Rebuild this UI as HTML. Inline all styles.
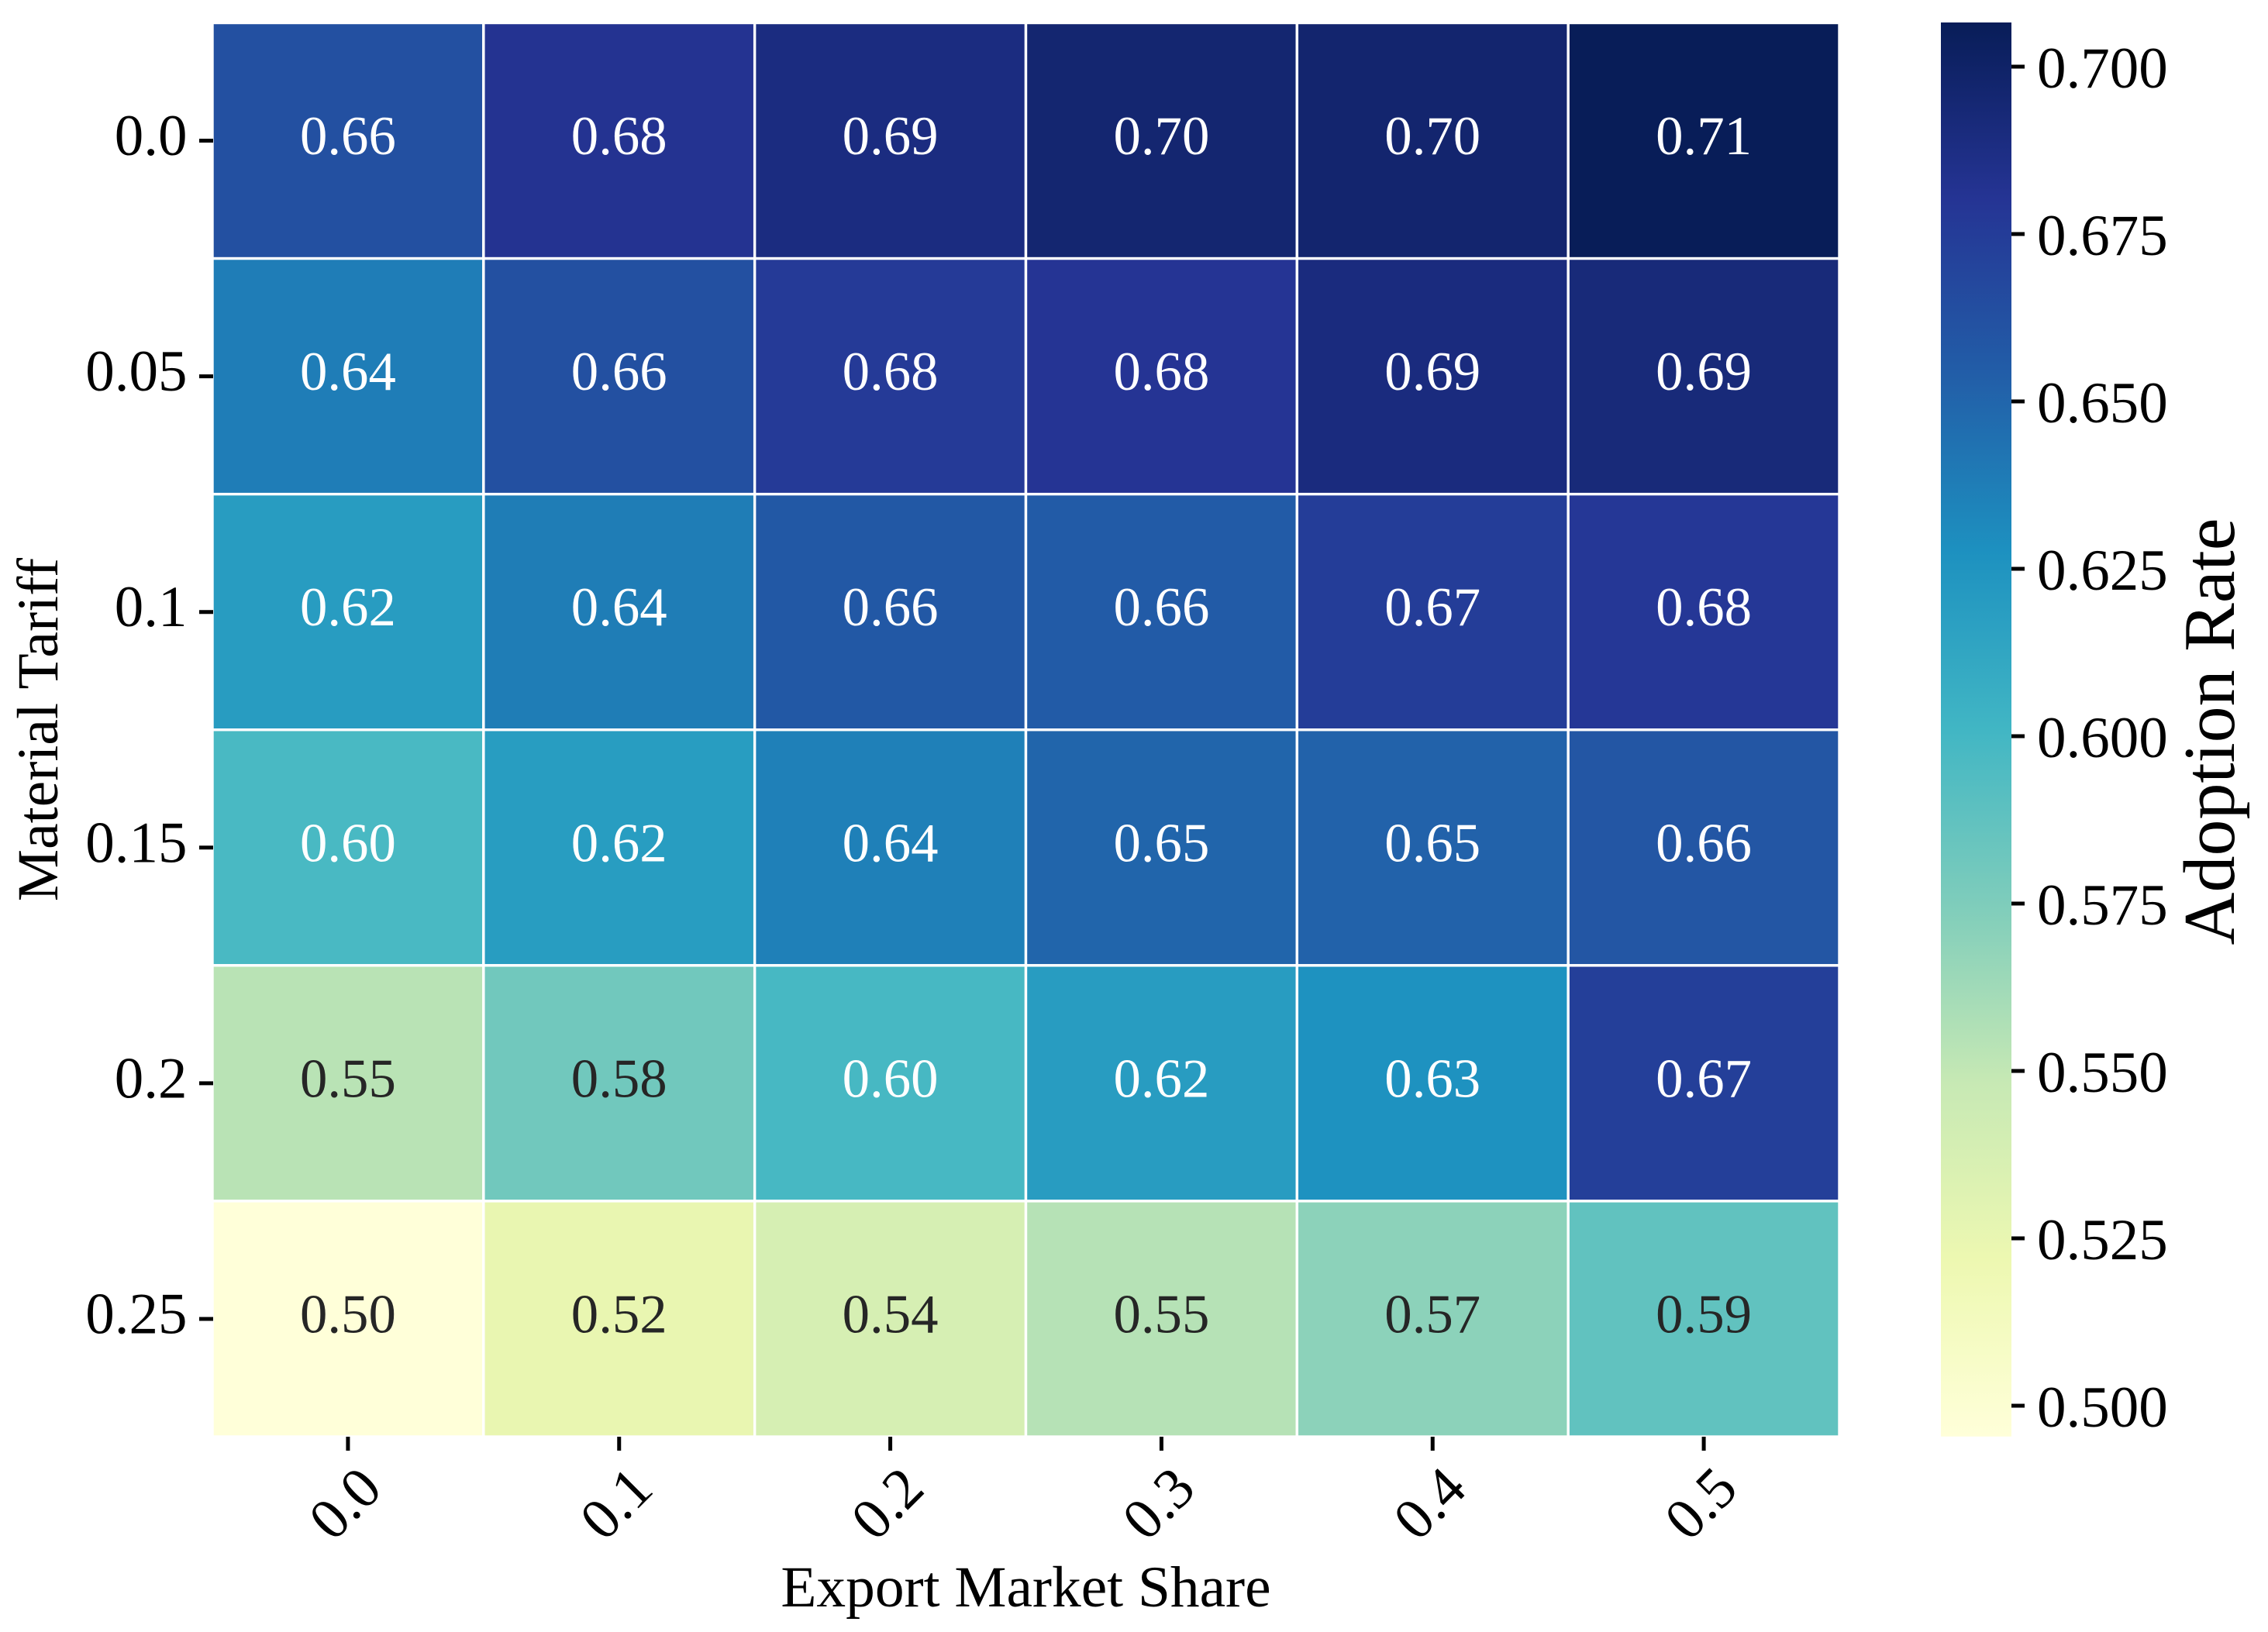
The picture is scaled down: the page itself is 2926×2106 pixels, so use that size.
<!DOCTYPE html>
<html lang="en">
<head>
<meta charset="utf-8">
<title>Adoption Rate Heatmap</title>
<style>
html,body{margin:0;padding:0;background:#fff;}
body{width:2926px;height:2106px;overflow:hidden;}
svg{display:block;font-family:"Liberation Serif","Times New Roman",serif;}
</style>
</head>
<body>
<svg id="chart" xmlns="http://www.w3.org/2000/svg" width="2926" height="2106" viewBox="0 0 2926 2106">
  <rect x="0" y="0" width="2926" height="2106" fill="#ffffff"/>
  <defs>
    <linearGradient id="cbar-gradient" x1="0" y1="1" x2="0" y2="0"></linearGradient>
  </defs>
  <g id="cells"></g>
  <g id="annotations"></g>
  <g id="x-axis"></g>
  <g id="y-axis"></g>
  <g id="colorbar"></g>
  <text x="1323.5" y="2073" font-size="75.4" text-anchor="middle" fill="#000">Export Market Share</text>
  <text transform="translate(74,941.5) rotate(-90)" font-size="75.6" text-anchor="middle" fill="#000">Material Tariff</text>
  <text transform="translate(2882,944) rotate(-90)" font-size="94" text-anchor="middle" fill="#000">Adoption Rate</text>
</svg>
<script>
const xCategories = ["0.0", "0.1", "0.2", "0.3", "0.4", "0.5"];
const yCategories = ["0.0", "0.05", "0.1", "0.15", "0.2", "0.25"];
const row0 = [0.6626, 0.6815, 0.6890, 0.6960, 0.6970, 0.7066];
const row1 = [0.6377, 0.6626, 0.6765, 0.6800, 0.6900, 0.6920];
const row2 = [0.6195, 0.6380, 0.6575, 0.6555, 0.6745, 0.6780];
const row3 = [0.5976, 0.6190, 0.6362, 0.6500, 0.6515, 0.6588];
const row4 = [0.5535, 0.5804, 0.5985, 0.6195, 0.6268, 0.6733];
const row5 = [0.4954, 0.5246, 0.5377, 0.5545, 0.5699, 0.5873];
const seriesRows = [row0, row1, row2, row3, row4, row5];
const colorbarTicks = [0.500, 0.525, 0.550, 0.575, 0.600, 0.625, 0.650, 0.675, 0.700];
const colormapStops = ["#ffffd9", "#edf8b1", "#c7e9b4", "#7fcdbb", "#41b6c4", "#1d91c0", "#225ea8", "#253494", "#081d58"];

const NS = "http://www.w3.org/2000/svg";
const plot = {left: 274, right: 2373, top: 29.5, bottom: 1854};
const cbar = {left: 2504, right: 2595, top: 29, bottom: 1853.7};
const allValues = seriesRows.flat();
const vmin = Math.min(...allValues);
const vmax = Math.max(...allValues);

function xBand(i) { return plot.left + i * (plot.right - plot.left) / xCategories.length; }
function yBand(j) { return plot.top + j * (plot.bottom - plot.top) / yCategories.length; }
function cbarY(v) { return cbar.bottom - (v - vmin) / (vmax - vmin) * (cbar.bottom - cbar.top); }
function hexToRgb(h) { return [1, 3, 5].map(function (k) { return parseInt(h.substr(k, 2), 16); }); }
function colorFor(v) {
  const t = Math.max(0, Math.min(1, (v - vmin) / (vmax - vmin))) * (colormapStops.length - 1);
  const k = Math.min(colormapStops.length - 2, Math.floor(t));
  const a = hexToRgb(colormapStops[k]);
  const b = hexToRgb(colormapStops[k + 1]);
  return a.map(function (c, n) { return Math.round(c + (b[n] - c) * (t - k)); });
}
function luminance(rgb) {
  const l = rgb.map(function (c) {
    const s = c / 255;
    return s <= 0.03928 ? s / 12.92 : Math.pow((s + 0.055) / 1.055, 2.4);
  });
  return 0.2126 * l[0] + 0.7152 * l[1] + 0.0722 * l[2];
}
function make(tag, attrs, parent, content) {
  const el = document.createElementNS(NS, tag);
  Object.keys(attrs).forEach(function (k) { el.setAttribute(k, attrs[k]); });
  if (content !== undefined) { el.textContent = content; }
  parent.appendChild(el);
  return el;
}

const cellsG = document.getElementById("cells");
const annotG = document.getElementById("annotations");
const xG = document.getElementById("x-axis");
const yG = document.getElementById("y-axis");
const cbG = document.getElementById("colorbar");
const gradient = document.getElementById("cbar-gradient");

colormapStops.forEach(function (c, i) {
  make("stop", {offset: i / (colormapStops.length - 1), "stop-color": c}, gradient);
});

seriesRows.forEach(function (row, j) {
  row.forEach(function (v, i) {
    const rgb = colorFor(v);
    const x0 = xBand(i);
    const y0 = yBand(j);
    const w = xBand(i + 1) - x0;
    const h = yBand(j + 1) - y0;
    const rect = make("rect", {x: x0, y: y0, width: w, height: h, fill: "rgb(" + rgb.join(",") + ")", stroke: "#ffffff", "stroke-width": 3.4}, cellsG);
    
    
    const label = make("text", {x: x0 + w / 2, y: y0 + h / 2 + 17.5, "font-size": 70.8, "text-anchor": "middle", fill: luminance(rgb) < 0.408 ? "#ffffff" : "#262626"}, annotG, v.toFixed(2));
    
    
  });
});

xCategories.forEach(function (c, i) {
  const cx = (xBand(i) + xBand(i + 1)) / 2;
  const tick = make("line", {x1: cx, x2: cx, y1: 1854, y2: 1872, stroke: "#000", "stroke-width": 5}, xG);
  
  
  const label = make("text", {x: 0, y: 25, transform: "translate(" + (cx - 4) + ",1940) rotate(-45)", "font-size": 75, "text-anchor": "middle", fill: "#000"}, xG, c);
  
  
});

yCategories.forEach(function (c, j) {
  const cy = (yBand(j) + yBand(j + 1)) / 2;
  const tick = make("line", {x1: 257, x2: 275, y1: cy, y2: cy, stroke: "#000", "stroke-width": 5}, yG);
  
  
  const label = make("text", {x: 241.5, y: cy + 18.5, "font-size": 75, "text-anchor": "end", fill: "#000"}, yG, c);
  
  
});

const bar = make("rect", {x: cbar.left, y: cbar.top, width: cbar.right - cbar.left, height: cbar.bottom - cbar.top, fill: "url(#cbar-gradient)"}, cbG);



colorbarTicks.forEach(function (v) {
  const y = cbarY(v);
  const tick = make("line", {x1: cbar.right, x2: 2612, y1: y, y2: y, stroke: "#000", "stroke-width": 5}, cbG);
  
  
  const label = make("text", {x: 2628, y: y + 27, "font-size": 75, fill: "#000"}, cbG, v.toFixed(3));
  
  
});
</script>
</body>
</html>
